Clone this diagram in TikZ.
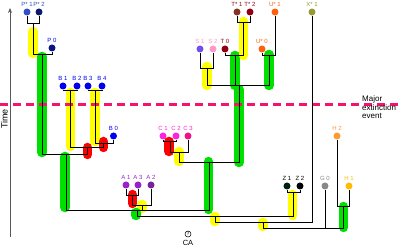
\documentclass[tikz,border=0pt]{standalone}
\usepackage{fontspec}
\setmainfont{Liberation Sans}
\usetikzlibrary{arrows.meta}

\definecolor{hlgreen}{HTML}{00E000}
\definecolor{hlyellow}{HTML}{FFFF00}
\definecolor{hlred}{HTML}{FF0000}
\definecolor{extpink}{HTML}{F5146A}
\definecolor{pblue}{HTML}{3050C8}
\definecolor{pnavy}{HTML}{0A1A6A}
\definecolor{bblue}{HTML}{0000EE}
\definecolor{spurple}{HTML}{7050E8}
\definecolor{spink}{HTML}{FF99CC}
\definecolor{tred}{HTML}{900010}
\definecolor{tbrown}{HTML}{883322}
\definecolor{uorange}{HTML}{FF6010}
\definecolor{xolive}{HTML}{999933}
\definecolor{cmag}{HTML}{FF22DD}
\definecolor{cpink}{HTML}{EE1188}
\definecolor{apurple}{HTML}{9922CC}
\definecolor{adark}{HTML}{772299}
\definecolor{zdark}{HTML}{002211}
\definecolor{ggrey}{HTML}{888888}
\definecolor{hyellow}{HTML}{FFBB00}
\definecolor{horange}{HTML}{FF9933}

\begin{document}
\begin{tikzpicture}[x=1pt, y=-1pt,
    dot/.style={circle, inner sep=0pt, minimum size=7pt},
    lab/.style={font=\fontsize{6}{6.5}\selectfont, inner sep=0.5pt, label distance=1.5pt},
    branch/.style={draw=black, line width=0.9pt},
    hl/.style={line width=9.5pt, line cap=round},
    extline/.style={draw=extpink, line width=3pt, dash pattern=on 8pt off 5pt},
    note/.style={font=\fontsize{8}{8.5}\selectfont, align=left, inner sep=0pt}
]
\useasboundingbox (0,0) rectangle (400,248);

% highlighted stems
\foreach \x/\ya/\yb/\c in {33/31.5/53.5/hlyellow, 42/56.5/152.5/hlgreen,
    70.5/92.5/146.5/hlyellow, 95/92.5/141.5/hlyellow, 103.5/141.5/147.5/hlred,
    87.5/147.5/154.5/hlred, 65/156.5/207.5/hlgreen, 169/141.5/151.5/hlred,
    179/151.5/161.5/hlyellow, 208.5/161.5/209.5/hlgreen, 235/55.5/85.5/hlgreen,
    239/89.5/162.5/hlgreen, 243.5/21.5/55.5/hlyellow, 207/66.5/85.5/hlyellow,
    269/54.5/85.5/hlgreen, 132.5/194.5/203.5/hlred, 142/204.5/208.5/hlyellow,
    136/212.5/215.5/hlgreen, 215/216.5/221.5/hlyellow, 292.5/194.5/215.5/hlyellow,
    263/222.5/226.5/hlyellow, 343.5/206.5/227.5/hlgreen}
    \draw[hl, \c] (\x,\ya) -- (\x,\yb);

% extinction line
\coordinate (extL) at (0,105);
\coordinate (extR) at (400,105);
\draw[extline] (extL) -- (extR);
\node[note, anchor=north west] (evt) at (362,96) {Major\\extinction\\event};

% time axis
\coordinate (tbot) at (10,237);
\coordinate (ttop) at (10,8);
\draw[gray!70!black, line width=0.7pt, -{Stealth[length=5pt, width=4pt]}] (tbot) -- (ttop);
\node[font=\fontsize{9}{9}\selectfont, rotate=90] (time) at (4.5,119) {Time};

% leaves
\node[dot, fill=pblue, label={[lab, text=pblue]above:P* 1}] (ps1) at (27,12) {};
\node[dot, fill=pnavy, label={[lab, text=pblue]above:P* 2}] (ps2) at (39,12) {};
\node[dot, fill=pnavy!80!bblue, label={[lab, text=bblue]above:P 0}] (p0) at (52,48) {};
\node[dot, fill=bblue, label={[lab, text=bblue]above:B 1}] (b1) at (63,86) {};
\node[dot, fill=bblue, label={[lab, text=bblue]above:B 2}] (b2) at (77,86) {};
\node[dot, fill=bblue, label={[lab, text=bblue]above:B 3}] (b3) at (88,86) {};
\node[dot, fill=bblue, label={[lab, text=bblue]above:B 4}] (b4) at (102,86) {};
\node[dot, fill=bblue, label={[lab, text=bblue]above:B 0}] (b0) at (113.5,136) {};
\node[dot, fill=spurple, label={[lab, text=spink]above:S 1}] (s1) at (200,49) {};
\node[dot, fill=spink, label={[lab, text=spink]above:S 2}] (s2) at (213,49) {};
\node[dot, fill=tred, label={[lab, text=tred]above:T 0}] (t0) at (225,49) {};
\node[dot, fill=tbrown, label={[lab, text=tred]above:T* 1}] (ts1) at (237,12) {};
\node[dot, fill=tred, label={[lab, text=tred]above:T* 2}] (ts2) at (250,12) {};
\node[dot, fill=uorange, label={[lab, text=uorange]above:U* 0}] (u0) at (262,49) {};
\node[dot, fill=uorange, label={[lab, text=uorange]above:U* 1}] (u1) at (275,12) {};
\node[dot, fill=xolive, label={[lab, text=xolive]above:X* 1}] (x1) at (312,12) {};
\node[dot, fill=cmag, label={[lab, text=cmag]above:C 1}] (c1) at (163,136) {};
\node[dot, fill=cmag, label={[lab, text=cmag]above:C 2}] (c2) at (176,136) {};
\node[dot, fill=cpink, label={[lab, text=cmag]above:C 3}] (c3) at (188,136) {};
\node[dot, fill=apurple, label={[lab, text=apurple]above:A 1}] (a1) at (126,185) {};
\node[dot, fill=apurple, label={[lab, text=apurple]above:A 3}] (a3) at (138,185) {};
\node[dot, fill=adark, label={[lab, text=apurple]above:A 2}] (a2) at (151,185) {};
\node[dot, fill=zdark, label={[lab, text=black]above:Z 1}] (z1) at (287,186) {};
\node[dot, fill=black, label={[lab, text=black]above:Z 2}] (z2) at (300,186) {};
\node[dot, fill=ggrey, label={[lab, text=ggrey]above:G 0}] (g0) at (325,186) {};
\node[dot, fill=hyellow, label={[lab, text=hyellow]above:H 1}] (h1) at (349,186) {};
\node[dot, fill=horange, label={[lab, text=horange]above:H 2}] (h2) at (337,136) {};

% internal nodes
\coordinate (nPs) at (33,23);
\coordinate (nP) at (42,54);
\coordinate (nB12) at (70,90);
\coordinate (nB34) at (95,90);
\coordinate (nB340) at (103.5,143);
\coordinate (nB) at (87,147);
\coordinate (nPB) at (66,154);
\coordinate (nS) at (207,68);
\coordinate (nTs) at (243.5,22);
\coordinate (nT) at (235,55);
\coordinate (nU) at (269,55);
\coordinate (nSTU) at (239,85);
\coordinate (nC12) at (170,141);
\coordinate (nC) at (179,152);
\coordinate (nCS) at (209,162);
\coordinate (nPBCS) at (137,210);
\coordinate (nA13) at (132,195);
\coordinate (nA) at (142,205);
\coordinate (nZ) at (293,192);
\coordinate (nM) at (215,216);
\coordinate (nX) at (263,222);
\coordinate (nH) at (343,206);
\coordinate (nR) at (303,228);

% branches
\foreach \p/\c in {nPs/ps1, nPs/ps2, nP/nPs, nP/p0, nB12/b1, nB12/b2, nB34/b3, nB34/b4,
    nB340/nB34, nB340/b0, nB/nB12, nB/nB340, nPB/nP, nPB/nB, nS/s1, nS/s2,
    nTs/ts1, nTs/ts2, nT/t0, nT/nTs, nU/u0, nU/u1, nSTU/nS, nSTU/nT, nSTU/nU,
    nC12/c1, nC12/c2, nC/nC12, nC/c3, nCS/nC, nCS/nSTU, nPBCS/nPB, nPBCS/nCS,
    nA13/a1, nA13/a3, nA/nA13, nA/a2, nPBCS/nA, nZ/z1, nZ/z2, nM/nPBCS, nM/nZ,
    nX/nM, nX/x1, nH/h2, nH/h1, nR/nX, nR/g0, nR/nH}
    \draw[branch] (\p) -| (\c);

% common ancestor
\node[font=\fontsize{5}{5}\selectfont, inner sep=0pt] (casym) at (188,234) {?};
\draw[line width=0.5pt] (casym) circle (3pt);
\node[font=\fontsize{7.5}{7.5}\selectfont, inner sep=0pt] (ca) at (188,243) {CA};
\end{tikzpicture}
\end{document}
